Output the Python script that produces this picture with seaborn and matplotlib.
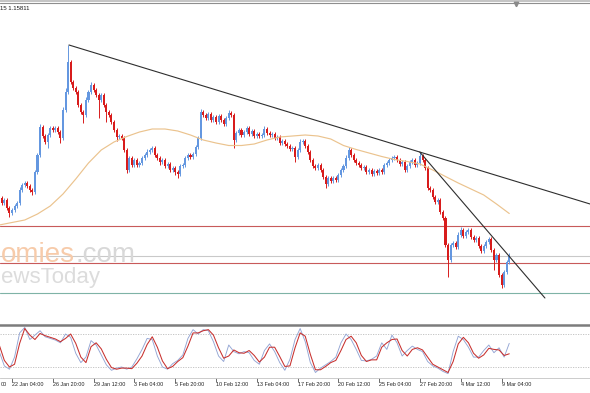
import numpy as np
import matplotlib
matplotlib.use("Agg")
import matplotlib.pyplot as plt
from matplotlib.lines import Line2D
import seaborn as sns

# ---------------- data (H4 candles) ----------------
first_open = 1.1642
closes = [
    1.1639, 1.1634, 1.1637, 1.1629, 1.1624, 1.1627, 1.1631, 1.1634, 1.1647, 1.1652,
    1.1654, 1.1651, 1.1647, 1.1645, 1.1665, 1.1682, 1.1710, 1.1701, 1.1695, 1.1702,
    1.1709, 1.1707, 1.1709, 1.1705, 1.1699, 1.1727, 1.1745, 1.1775, 1.1755, 1.1749,
    1.1745, 1.1732, 1.1725, 1.1722, 1.1737, 1.1745, 1.1752, 1.1747, 1.1742, 1.1737,
    1.1742, 1.1732, 1.1725, 1.1722, 1.1715, 1.1707, 1.1700, 1.1701, 1.1699, 1.1687,
    1.1667, 1.1679, 1.1672, 1.1677, 1.1672, 1.1674, 1.1679, 1.1682, 1.1685, 1.1687,
    1.1689, 1.1682, 1.1679, 1.1675, 1.1677, 1.1671, 1.1673, 1.1667, 1.1669, 1.1665,
    1.1663, 1.1671, 1.1672, 1.1679, 1.1682, 1.1680, 1.1683, 1.1690, 1.1699, 1.1725,
    1.1722, 1.1719, 1.1723, 1.1717, 1.1720, 1.1715, 1.1721, 1.1717, 1.1713, 1.1719,
    1.1724, 1.1722, 1.1697, 1.1704, 1.1707, 1.1702, 1.1705, 1.1709, 1.1703, 1.1706,
    1.1701, 1.1703, 1.1701, 1.1702, 1.1708, 1.1704, 1.1702, 1.1703, 1.1699, 1.1700,
    1.1694, 1.1696, 1.1693, 1.1691, 1.1688, 1.1689, 1.1680, 1.1687, 1.1695, 1.1696,
    1.1691, 1.1685, 1.1677, 1.1671, 1.1669, 1.1672, 1.1667, 1.1660, 1.1653, 1.1659,
    1.1656, 1.1659, 1.1657, 1.1662, 1.1667, 1.1671, 1.1679, 1.1687, 1.1682, 1.1677,
    1.1674, 1.1672, 1.1669, 1.1670, 1.1665, 1.1667, 1.1663, 1.1666, 1.1664, 1.1667,
    1.1665, 1.1672, 1.1674, 1.1677, 1.1679, 1.1680, 1.1677, 1.1673, 1.1675, 1.1667,
    1.1671, 1.1675, 1.1677, 1.1672, 1.1674, 1.1681, 1.1677, 1.1669, 1.1649, 1.1647,
    1.1640, 1.1635, 1.1637, 1.1625, 1.1619, 1.1592, 1.1577, 1.1592, 1.1594, 1.1590,
    1.1602, 1.1607, 1.1601, 1.1605, 1.1607, 1.1600, 1.1597, 1.1599, 1.1591, 1.1586,
    1.1591, 1.1595, 1.1598, 1.1587, 1.1577, 1.1582, 1.1562, 1.1552, 1.1565, 1.1575,
    1.1581,
]
# wick lengths beyond the body, in pips
upper_wick_pips = [
    2, 2, 2, 2, 2, 2, 2, 2, 3, 2,
    2, 2, 2, 2, 2, 2, 3, 2, 2, 2,
    2, 2, 2, 2, 2, 3, 4, 17, 2, 2,
    2, 2, 2, 2, 3, 2, 3, 2, 2, 2,
    2, 2, 2, 2, 2, 2, 2, 2, 2, 2,
    2, 2, 2, 2, 2, 2, 2, 2, 3, 2,
    2, 2, 2, 2, 2, 2, 2, 2, 2, 2,
    2, 2, 2, 2, 2, 2, 2, 2, 2, 3,
    2, 2, 2, 2, 2, 2, 2, 2, 2, 2,
    3, 2, 2, 2, 2, 2, 2, 2, 2, 2,
    2, 2, 2, 2, 3, 2, 2, 2, 2, 2,
    2, 2, 2, 2, 2, 2, 2, 2, 3, 2,
    2, 2, 2, 2, 2, 2, 2, 2, 2, 2,
    2, 2, 2, 2, 2, 2, 3, 3, 2, 2,
    2, 2, 2, 2, 2, 2, 2, 2, 2, 2,
    2, 2, 2, 2, 2, 2, 2, 2, 2, 2,
    2, 2, 2, 2, 2, 4, 2, 2, 2, 2,
    2, 2, 2, 2, 2, 2, 2, 2, 2, 2,
    3, 3, 2, 2, 2, 2, 2, 2, 2, 2,
    2, 2, 2, 2, 2, 2, 2, 2, 2, 2,
    3,
]
lower_wick_pips = [
    2, 2, 2, 2, 4, 2, 2, 2, 2, 2,
    2, 2, 2, 3, 2, 2, 2, 2, 2, 6,
    2, 2, 2, 2, 5, 2, 2, 2, 2, 2,
    2, 2, 2, 8, 2, 2, 2, 2, 2, 18,
    2, 2, 10, 2, 2, 2, 4, 2, 2, 2,
    3, 2, 2, 2, 2, 2, 2, 2, 2, 2,
    2, 2, 2, 3, 2, 2, 2, 2, 2, 3,
    4, 2, 2, 2, 2, 2, 2, 2, 2, 2,
    2, 2, 2, 2, 2, 2, 2, 2, 2, 2,
    2, 2, 8, 2, 2, 2, 2, 2, 2, 2,
    2, 2, 2, 2, 2, 2, 2, 2, 2, 2,
    2, 2, 2, 2, 2, 2, 5, 2, 2, 2,
    2, 2, 2, 2, 2, 2, 2, 2, 4, 2,
    2, 2, 2, 2, 2, 2, 2, 2, 2, 2,
    2, 2, 2, 2, 2, 2, 2, 2, 2, 2,
    2, 2, 2, 2, 2, 2, 2, 2, 2, 2,
    2, 2, 2, 2, 2, 2, 2, 2, 2, 2,
    2, 2, 2, 2, 2, 2, 17, 2, 2, 2,
    2, 2, 2, 2, 2, 2, 2, 2, 2, 2,
    2, 2, 2, 2, 10, 2, 2, 3, 2, 2,
    2,
]
# moving average, one value every 5 bars
ma_values = [
    1.1612, 1.16145, 1.1617, 1.1623, 1.1631, 1.1643, 1.1658, 1.1674, 1.1687, 1.1695,
    1.17005, 1.1705, 1.1708, 1.1708, 1.1706, 1.1702, 1.1697, 1.1694, 1.16915, 1.16915,
    1.1693, 1.1697, 1.1700, 1.1701, 1.1702, 1.1701, 1.1698, 1.16915, 1.16875, 1.1684,
    1.16805, 1.16775, 1.16755, 1.1673, 1.1667, 1.16605, 1.1654, 1.1648, 1.1642, 1.1633,
    1.16235,
]
# stochastic oscillator, one value every 2 bars
stoch_main = [
    48, 22, 16, 38, 82, 92, 70, 78, 86, 75,
    72, 69, 64, 80, 74, 45, 28, 38, 68, 60,
    42, 24, 14, 18, 20, 16, 20, 35, 52, 72,
    70, 40, 20, 16, 26, 32, 42, 72, 88, 80,
    88, 86, 66, 40, 30, 60, 48, 44, 48, 46,
    32, 25, 50, 62, 48, 28, 14, 34, 70, 90,
    66, 28, 10, 18, 24, 30, 38, 64, 80, 70,
    52, 32, 31, 34, 40, 64, 52, 78, 64, 40,
    50, 58, 52, 48, 30, 22, 18, 12, 8, 48,
    76, 70, 56, 38, 38, 50, 60, 46, 55, 38,
    63,
]
stoch_signal = [
    60, 32, 20, 25, 63, 90, 78, 70, 81, 77,
    74, 71, 66, 72, 80, 63, 38, 28, 57, 64,
    53, 34, 19, 16, 18, 18, 17, 27, 40, 61,
    75, 56, 31, 17, 21, 30, 37, 58, 82, 82,
    86, 88, 78, 55, 36, 40, 51, 46, 45, 50,
    41, 29, 38, 56, 56, 39, 21, 22, 55, 82,
    76, 43, 15, 15, 21, 28, 32, 50, 70, 76,
    64, 41, 30, 33, 33, 56, 64, 70, 71, 50,
    40, 52, 55, 51, 38, 25, 20, 15, 10, 30,
    62, 74, 64, 45, 36, 42, 54, 52, 51, 41,
    44,
]
stoch_levels = [80, 20]
tick_bars = [5, 21, 37, 53, 69, 85, 101, 117, 133, 149, 165, 181, 197]
tick_labels = ["22 Jan 04:00", "26 Jan 20:00", "29 Jan 12:00",
               "3 Feb 04:00", "5 Feb 20:00", "10 Feb 12:00", "13 Feb 04:00",
               "17 Feb 20:00", "20 Feb 12:00", "25 Feb 04:00", "27 Feb 20:00",
               "4 Mar 12:00", "9 Mar 04:00"]
left_label_tail = "00"
trend1_bars, trend1_prices = [27.35, 231.7], [1.1792, 1.1633]
trend2_bars, trend2_prices = [164.9, 214.0], [1.1685, 1.1539]
red_levels = [1.1611, 1.1574]
bid_level = 1.1581
support_level = 1.1544
header_text = "15 1.15811"
wm_orange, wm_dotcom, wm_news = "omies", ".com", "ewsToday"

# ---------------- styling ----------------
sns.set_theme(style="white")
plt.rcParams["font.family"] = ["Liberation Sans", "DejaVu Sans"]

BULL = "#6497E0"
BEAR = "#D81C1C"
MA_COLOR = "#EBC38E"
TREND = "#2e2e2e"
XLIM = (0.294, 231.67)

W, H = 590, 393
fig = plt.figure(figsize=(W / 100, H / 100), dpi=100, facecolor="white")

ax = fig.add_axes([0, (H - 322) / H, 1, 318 / H])
ax2 = fig.add_axes([0, (H - 378) / H, 1, 53 / H])
ax.patch.set_alpha(0)
ax2.patch.set_alpha(0)

# watermark (visible part only)
fig.text(0.5 / W, 1 - 262 / H, wm_orange, ha="left", va="baseline",
         fontsize=20, color="#F7CBAA", zorder=0)
fig.text(75 / W, 1 - 262 / H, wm_dotcom, ha="left", va="baseline",
         fontsize=20, color="#D8D8D8", zorder=0)
fig.text(0.5 / W, 1 - 283 / H, wm_news, ha="left", va="baseline",
         fontsize=16, color="#DCDCDC", zorder=0)

# candles
n = len(closes)
bars = np.arange(n)
c = np.array(closes)
o = np.array([first_open] + closes[:-1])
top = np.maximum(o, c)
bot = np.minimum(o, c)
highs = top + np.array(upper_wick_pips) / 1e4
lows = bot - np.array(lower_wick_pips) / 1e4
cols = np.where(c >= o, BULL, BEAR)

for lvl in red_levels:
    ax.axhline(lvl, color="#C85A5A", lw=0.8, zorder=1)
ax.axhline(bid_level, color="#C9C9C9", lw=0.8, zorder=1)
ax.axhline(support_level, color="#7FB3A6", lw=0.8, zorder=1)

ax.vlines(bars, lows, highs, colors=cols, lw=0.7, zorder=3)
ax.bar(bars, np.maximum(top - bot, 0.00006), bottom=bot, width=0.8,
       color=cols, linewidth=0, zorder=3)

sns.lineplot(x=np.arange(0, n, 5), y=ma_values, ax=ax, color=MA_COLOR,
             lw=0.85, zorder=4)
sns.lineplot(x=trend1_bars, y=trend1_prices, ax=ax, color=TREND, lw=0.8, zorder=5)
sns.lineplot(x=trend2_bars, y=trend2_prices, ax=ax, color=TREND, lw=0.8, zorder=5)

ax.set_ylim(1.1515, 1.1833)
ax.set_xlabel("")
ax.set_ylabel("")
ax.tick_params(left=False, bottom=False, labelleft=False, labelbottom=False)
for s in ax.spines.values():
    s.set_visible(False)
ax.set_xlim(*XLIM)

# stochastic panel
sx = np.arange(0, n, 2)
for lvl in stoch_levels:
    ax2.axhline(lvl, color="#BDBDBD", lw=0.6, ls=(0, (1.5, 1.5)), zorder=1)
sns.lineplot(x=sx, y=stoch_main, ax=ax2, color="#93A5D4", lw=0.65, zorder=3)
sns.lineplot(x=sx, y=stoch_signal, ax=ax2, color="#C8302E", lw=0.75, zorder=4)
ax2.set_ylim(0, 96.4)
ax2.set_xlabel("")
ax2.set_ylabel("")
for k, s in ax2.spines.items():
    s.set_visible(k in ("top", "bottom"))
ax2.spines["top"].set_color("#7c7c7c")
ax2.spines["top"].set_linewidth(1.8)
ax2.spines["bottom"].set_color("#c4c4c4")
ax2.spines["bottom"].set_linewidth(0.6)
ax2.set_yticks([])
ax2.set_xticks(tick_bars)
ax2.set_xticklabels(tick_labels, ha="left")
ax2.tick_params(axis="x", direction="out", length=2.8, width=0.6,
                color="#555555", pad=0.3, labelsize=3.9, labelcolor="#222222",
                bottom=True)
ax2.set_xlim(*XLIM)
fig.text(0.3 / W, 1 - 384 / H, left_label_tail, ha="left", va="center",
         fontsize=3.9, color="#222222")

# window chrome
fig.add_artist(Line2D([0, 1], [1 - 0.8 / H] * 2, color="#c4c4c4", lw=1.4,
                      transform=fig.transFigure))
fig.add_artist(Line2D([0, 1], [1 - 2.6 / H] * 2, color="#8e8e8e", lw=0.8,
                      transform=fig.transFigure))
fig.add_artist(Line2D([516 / W], [1 - 4 / H], marker="v", ms=3.2, color="#8a8a8a",
                      lw=0, transform=fig.transFigure))
fig.text(0.5 / W, 1 - 8 / H, header_text, ha="left", va="center",
         fontsize=4.3, color="#1a1a1a")

fig.savefig("out.png", dpi=100, facecolor="white")
